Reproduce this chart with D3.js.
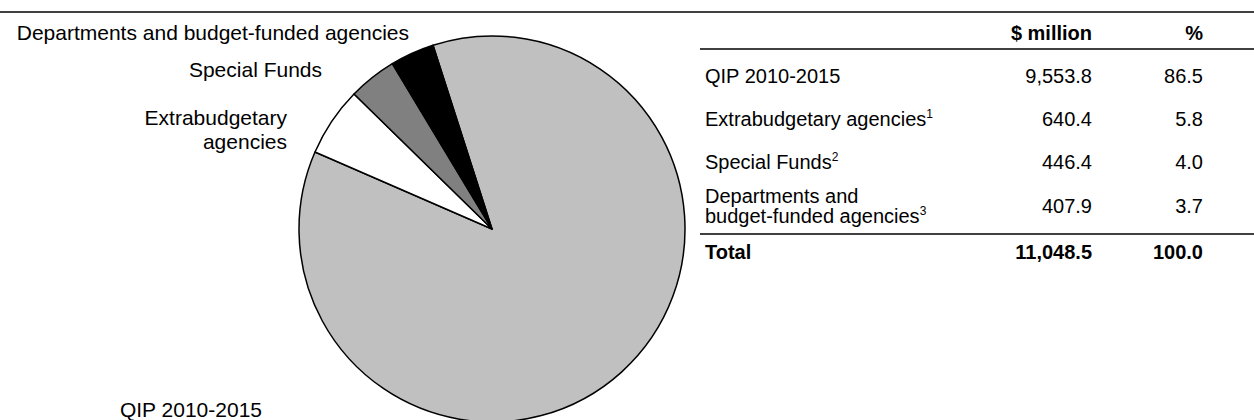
<!DOCTYPE html>
<html>
<head>
<meta charset="utf-8">
<script src="https://cdn.jsdelivr.net/npm/d3@7"></script>
<style>
  html, body { margin: 0; padding: 0; background: #fff; }
  svg { display: block; font-family: "Liberation Sans", Arial, sans-serif; }
</style>
</head>
<body>
<svg id="chart" width="1254" height="420"></svg>
<script>
// Capital investment by component
const categories = ["QIP 2010-2015", "Extrabudgetary agencies", "Special Funds", "Departments and budget-funded agencies"];
const amounts = [9553.8, 640.4, 446.4, 407.9];           // $ million
const shares = [86.5, 5.8, 4.0, 3.7];                    // %
const fills = ["#c0c0c0", "#ffffff", "#808080", "#000000"];

// table rows: label lines, superscript note, amount text, share text
const tableLabels = [["QIP 2010-2015"], ["Extrabudgetary agencies"], ["Special Funds"], ["Departments and", "budget-funded agencies"]];
const tableNotes = ["", "1", "2", "3"];
const amountLabels = ["9,553.8", "640.4", "446.4", "407.9"];
const shareLabels = ["86.5", "5.8", "4.0", "3.7"];
const totalLabels = ["Total", "11,048.5", "100.0"];
const headerLabels = ["$ million", "%"];

// pie slice captions
const pieCaptions = [["QIP 2010-2015"], ["Extrabudgetary", "agencies"], ["Special Funds"], ["Departments and budget-funded agencies"]];

const svg = d3.select("#chart");
const W = 1254;
const fontSize = 20;

// top rule
svg.append("line").attr("x1", 0).attr("x2", W).attr("y1", 12).attr("y2", 12)
  .attr("stroke", "#000").attr("stroke-width", 1.5);

// ---- pie ----
const cx = 492, cy = 229, R = 193;
const start = -17.8 * Math.PI / 180;
const pie = d3.pie().sort(null).value(d => d).startAngle(start).endAngle(start + 2 * Math.PI);
const arc = d3.arc().innerRadius(0).outerRadius(R);
const g = svg.append("g").attr("transform", `translate(${cx},${cy})`);
g.selectAll("path").data(pie(amounts)).join("path")
  .attr("d", arc)
  .attr("fill", (d, i) => fills[i])
  .attr("stroke", "#000")
  .attr("stroke-width", 1.5)
  .attr("stroke-linejoin", "round");

// captions, right-aligned to the left of the pie
const captionPos = [
  { x: 262, y: 417 },
  { x: 287, y: 125 },
  { x: 322, y: 77 },
  { x: 409, y: 40 }
];
pieCaptions.forEach((lines, i) => {
  const p = captionPos[i];
  const t = svg.append("text").attr("text-anchor", "end").attr("font-size", 21).attr("fill", "#000");
  lines.forEach((s, j) => t.append("tspan").attr("x", p.x).attr("y", p.y + j * 24).text(s));
});

// ---- table ----
const xLabel = 705, xAmt = 1092, xPct = 1203;
const headerY = 40, headerRule = 49;
const rowY = [83, 126, 169, 213];
const totalRule = 234, totalY = 259;

headerLabels.forEach((h, i) => {
  svg.append("text").attr("x", i === 0 ? xAmt : xPct).attr("y", headerY)
    .attr("text-anchor", "end").attr("font-size", fontSize).attr("font-weight", "bold").text(h);
});
svg.append("line").attr("x1", 700).attr("x2", W).attr("y1", headerRule).attr("y2", headerRule)
  .attr("stroke", "#000").attr("stroke-width", 1.5);

categories.forEach((c, i) => {
  const lines = tableLabels[i];
  const t = svg.append("text").attr("font-size", fontSize);
  const y0 = rowY[i] - (lines.length - 1) * 10;
  lines.forEach((s, j) => {
    t.append("tspan").attr("x", xLabel).attr("y", y0 + j * 20).text(s);
    if (j === lines.length - 1 && tableNotes[i]) {
      t.append("tspan").attr("dy", -8).attr("font-size", 12).text(tableNotes[i]);
    }
  });
  svg.append("text").attr("x", xAmt).attr("y", rowY[i]).attr("text-anchor", "end")
    .attr("font-size", fontSize).text(amountLabels[i]);
  svg.append("text").attr("x", xPct).attr("y", rowY[i]).attr("text-anchor", "end")
    .attr("font-size", fontSize).text(shareLabels[i]);
});

svg.append("line").attr("x1", 700).attr("x2", W).attr("y1", totalRule).attr("y2", totalRule)
  .attr("stroke", "#000").attr("stroke-width", 1.5);
[[xLabel, "start"], [xAmt, "end"], [xPct, "end"]].forEach(([x, anchor], i) => {
  svg.append("text").attr("x", x).attr("y", totalY).attr("text-anchor", anchor)
    .attr("font-size", fontSize).attr("font-weight", "bold").text(totalLabels[i]);
});
</script>
</body>
</html>
